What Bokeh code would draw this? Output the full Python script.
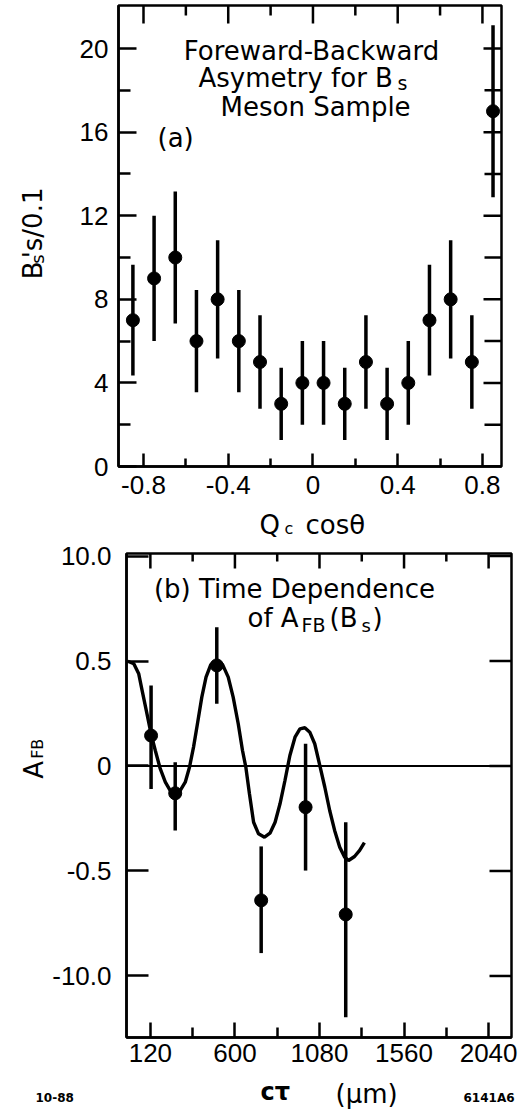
import math
from bokeh.plotting import figure
from bokeh.models import Range1d, FixedTicker, LinearAxis, Label, Span
from bokeh.layouts import column, row
from bokeh.core.properties import value
from bokeh.embed import file_html
from bokeh.resources import INLINE

# ---------------- data: panel (a) ----------------
q_bins = [-0.85, -0.75, -0.65, -0.55, -0.45, -0.35, -0.25, -0.15, -0.05,
          0.05, 0.15, 0.25, 0.35, 0.45, 0.55, 0.65, 0.75, 0.85]
bs_counts = [7, 9, 10, 6, 8, 6, 5, 3, 4, 4, 3, 5, 3, 4, 7, 8, 5, 17]
bs_err = [2.65, 3.0, 3.16, 2.45, 2.83, 2.45, 2.24, 1.73, 2.0,
          2.0, 1.73, 2.24, 1.73, 2.0, 2.65, 2.83, 2.24, 4.12]

# ---------------- data: panel (b) ----------------
ct_pts = [124, 261, 497, 749, 1001, 1229]
afb_pts = [0.145, -0.13, 0.479, -0.64, -0.196, -0.707]
afb_hi = [0.383, 0.018, 0.661, -0.383, 0.106, -0.268]
afb_lo = [-0.109, -0.307, 0.296, -0.891, -0.498, -1.196]

curve_ct = [-8, 26, 54, 73, 97, 124, 148, 176, 205, 233, 261, 289, 318, 342,
            365, 387, 412, 436, 463, 497, 530, 562, 590, 619, 643, 662, 682,
            706, 734, 768, 799, 828, 856, 884, 912, 941, 969, 997, 1025, 1053,
            1082, 1110, 1138, 1166, 1195, 1223, 1245, 1279, 1308, 1335]
curve_afb = [0.499, 0.487, 0.439, 0.36, 0.264, 0.153, 0.074, -0.013, -0.077,
             -0.117, -0.13, -0.117, -0.077, -0.006, 0.09, 0.2, 0.328, 0.423,
             0.483, 0.502, 0.483, 0.423, 0.328, 0.2, 0.074, -0.006, -0.13,
             -0.268, -0.323, -0.339, -0.32, -0.268, -0.18, -0.069, 0.05, 0.137,
             0.177, 0.182, 0.161, 0.106, 0.002, -0.1, -0.212, -0.307, -0.387,
             -0.434, -0.45, -0.431, -0.402, -0.365]

# tick values / labels
a_xticks = [-0.8, -0.4, 0, 0.4, 0.8]
a_xminor = [-0.6, -0.2, 0.2, 0.6]
a_xlabels = ["-0.8", "-0.4", "0", "0.4", "0.8"]
a_yticks = [0, 4, 8, 12, 16, 20]
a_yminor = [2, 6, 10, 14, 18]
b_xticks = [120, 600, 1080, 1560, 2040]
b_xminor = [360, 840, 1320, 1800]
b_yticks = [-1.0, -0.5, 0, 0.5, 1.0]
b_ylabels = ["-10.0", "-0.5", "0", "0.5", "10.0"]

TF = "Liberation Sans"
LF = "DejaVu Sans"
BLK = "black"
R = math.pi / 2
LBL_SHIFT = 9      # label rendering offset correction (px)
TXT_SHIFT = 6      # text glyph rendering offset correction (px, at 26px)


def style_axis(ax, major_in, minor_in, standoff):
    ax.axis_line_color = BLK
    ax.axis_line_width = 2.5
    ax.major_tick_in = major_in
    ax.major_tick_out = 0
    ax.minor_tick_in = minor_in
    ax.minor_tick_out = 0
    ax.major_tick_line_width = 2.5
    ax.minor_tick_line_width = 2.5
    ax.major_tick_line_color = BLK
    ax.minor_tick_line_color = BLK
    ax.major_label_text_font = TF
    ax.major_label_text_font_size = "26px"
    ax.major_label_text_color = BLK
    ax.major_label_standoff = standoff


def lab(p, x, y, text, size=26, font=LF, align="left"):
    # label inside the plot frame, frame-relative pixels (y up from frame bottom)
    p.add_layout(Label(x=x, y=y + LBL_SHIFT * size / 26, x_units="screen",
                       y_units="screen", text=text,
                       text_font=font, text_font_size=f"{size}px",
                       text_align=align, text_baseline="alphabetic",
                       text_color=BLK))


def text_fig(w, h):
    f = figure(width=w, height=h, x_range=Range1d(0, w), y_range=Range1d(0, h),
               output_backend="svg", toolbar_location=None,
               x_axis_type=None, y_axis_type=None, min_border=0,
               min_border_left=0, min_border_right=0, min_border_top=0,
               min_border_bottom=0)
    f.outline_line_color = None
    f.background_fill_color = "white"
    f.border_fill_color = "white"
    return f


def tx(f, left, top, h, px, py, text, size=26, font=LF, angle=0.0, style="normal"):
    # px, py: intended page position of the text baseline start
    s = TXT_SHIFT * size / 26
    if angle:
        px = px - s
    else:
        py = py - s
    f.text(x=[px - left], y=[top + h - py], text=[text],
           text_font=value(font), text_font_size=value(f"{size}px"),
           text_font_style=style, text_align="left",
           text_baseline="alphabetic", text_color=BLK, angle=angle)


def frame_ticks(p, xs, ys, length, angle):
    p.ray(x=xs, y=ys, length=length, length_units="screen", angle=angle,
          line_color=BLK, line_width=2.5)


# ================= panel (a) =================
H1 = 505
p1 = figure(width=476, height=H1, x_range=Range1d(-0.918, 0.89),
            y_range=Range1d(0, 22.06), output_backend="svg",
            toolbar_location=None, x_axis_type=None, y_axis_type=None,
            min_border_left=66, min_border_right=27, min_border_top=5,
            min_border_bottom=39)
p1.outline_line_color = BLK
p1.outline_line_width = 2.5
p1.background_fill_color = "white"
p1.border_fill_color = "white"

ax_b = LinearAxis(ticker=FixedTicker(ticks=a_xticks, minor_ticks=a_xminor),
                  major_label_overrides=dict(zip(a_xticks, a_xlabels)))
style_axis(ax_b, 13, 8, 9)
ax_l = LinearAxis(ticker=FixedTicker(ticks=a_yticks, minor_ticks=a_yminor))
style_axis(ax_l, 18, 12, 10)
p1.add_layout(ax_b, "below")
p1.add_layout(ax_l, "left")

x1e, y1e = p1.x_range.end, p1.y_range.end
frame_ticks(p1, [x1e] * len(a_yticks), a_yticks, 18, math.pi)
frame_ticks(p1, [x1e] * len(a_yminor), a_yminor, 17, math.pi)
frame_ticks(p1, a_xticks, [y1e] * len(a_xticks), 18, -R)
frame_ticks(p1, a_xminor, [y1e] * len(a_xminor), 10, -R)

lo_a = [c - e for c, e in zip(bs_counts, bs_err)]
hi_a = [c + e for c, e in zip(bs_counts, bs_err)]
p1.segment(x0=q_bins, y0=lo_a, x1=q_bins, y1=hi_a, line_color=BLK, line_width=3.5)
p1.scatter(x=q_bins, y=bs_counts, size=13, color=BLK)

lab(p1, 193, 407, "Foreward-Backward", 26, align="center")
lab(p1, 80, 380, "Asymetry for B", 26)
lab(p1, 279, 377, "s", 19)
lab(p1, 102, 351, "Meson Sample", 26)
lab(p1, 39, 320, "(a)", 26)

# y-axis title of (a), in a strip left of the plot
WA = 52
figA = text_fig(WA, H1)
tx(figA, 0, 0, H1, 38, 300, "B", 26, angle=R)
tx(figA, 0, 0, H1, 41, 283, "s", 18, angle=R)
tx(figA, 0, 0, H1, 38, 277, "'s/0.1", 26, angle=R)

# x-axis title of (a)
TQ, HQ = 505, 33
figQ = text_fig(528, HQ)
tx(figQ, 0, TQ, HQ, 259, 530, "Q", 26)
tx(figQ, 0, TQ, HQ, 284, 532, "c", 16)
tx(figQ, 0, TQ, HQ, 305, 530, "cos\u03b8", 26)

# ================= panel (b) =================
T2, H2 = 538, 535
p2 = figure(width=479, height=H2, x_range=Range1d(-15.5, 2170),
            y_range=Range1d(-1.293, 1.012), output_backend="svg",
            toolbar_location=None, x_axis_type=None, y_axis_type=None,
            min_border_left=75, min_border_right=17, min_border_top=15,
            min_border_bottom=36)
p2.outline_line_color = BLK
p2.outline_line_width = 2.5
p2.background_fill_color = "white"
p2.border_fill_color = "white"

bx_b = LinearAxis(ticker=FixedTicker(ticks=b_xticks, minor_ticks=b_xminor))
style_axis(bx_b, 15, 10, 6)
by_l = LinearAxis(ticker=FixedTicker(ticks=b_yticks, minor_ticks=[]),
                  major_label_overrides=dict(zip(b_yticks, b_ylabels)))
style_axis(by_l, 22, 0, 15)
p2.add_layout(bx_b, "below")
p2.add_layout(by_l, "left")

x2e, y2e = p2.x_range.end, p2.y_range.end
frame_ticks(p2, [x2e] * len(b_yticks), b_yticks, 22, math.pi)
frame_ticks(p2, b_xticks, [y2e] * len(b_xticks), 15, -R)
frame_ticks(p2, b_xminor, [y2e] * len(b_xminor), 8, -R)

p2.add_layout(Span(location=0, dimension="width", line_color=BLK, line_width=1.8))
p2.line(x=curve_ct, y=curve_afb, line_color=BLK, line_width=3.4)
p2.segment(x0=ct_pts, y0=afb_lo, x1=ct_pts, y1=afb_hi, line_color=BLK, line_width=3.5)
p2.scatter(x=ct_pts, y=afb_pts, size=13, color=BLK)

lab(p2, 168, 440, "(b) Time Dependence", 26, align="center")
lab(p2, 121, 411, "of A", 26)
lab(p2, 175, 406, "FB", 19)
lab(p2, 203, 411, "(B", 26)
lab(p2, 235, 406, "s", 18)
lab(p2, 246, 411, ")", 26)

# y-axis title of (b)
WB = 49
figB = text_fig(WB, H2)
tx(figB, 0, T2, H2, 39, 787, "A", 26, angle=R)
tx(figB, 0, T2, H2, 41, 765, "FB", 16, angle=R)

# x-axis title of (b) and figure codes
TC, HC = 1073, 38
figC = text_fig(528, HC)
tx(figC, 0, TC, HC, 260, 1097, "c\u03c4", 24, style="bold")
tx(figC, 0, TC, HC, 335, 1099, "(\u03bcm)", 26)
tx(figC, 0, TC, HC, 35, 1100, "10-88", 12, style="bold")
tx(figC, 0, TC, HC, 463, 1100, "6141A6", 12, style="bold")

layout = column(row(figA, p1), figQ, row(figB, p2), figC)
open("out.html", "w").write(file_html(layout, INLINE))
